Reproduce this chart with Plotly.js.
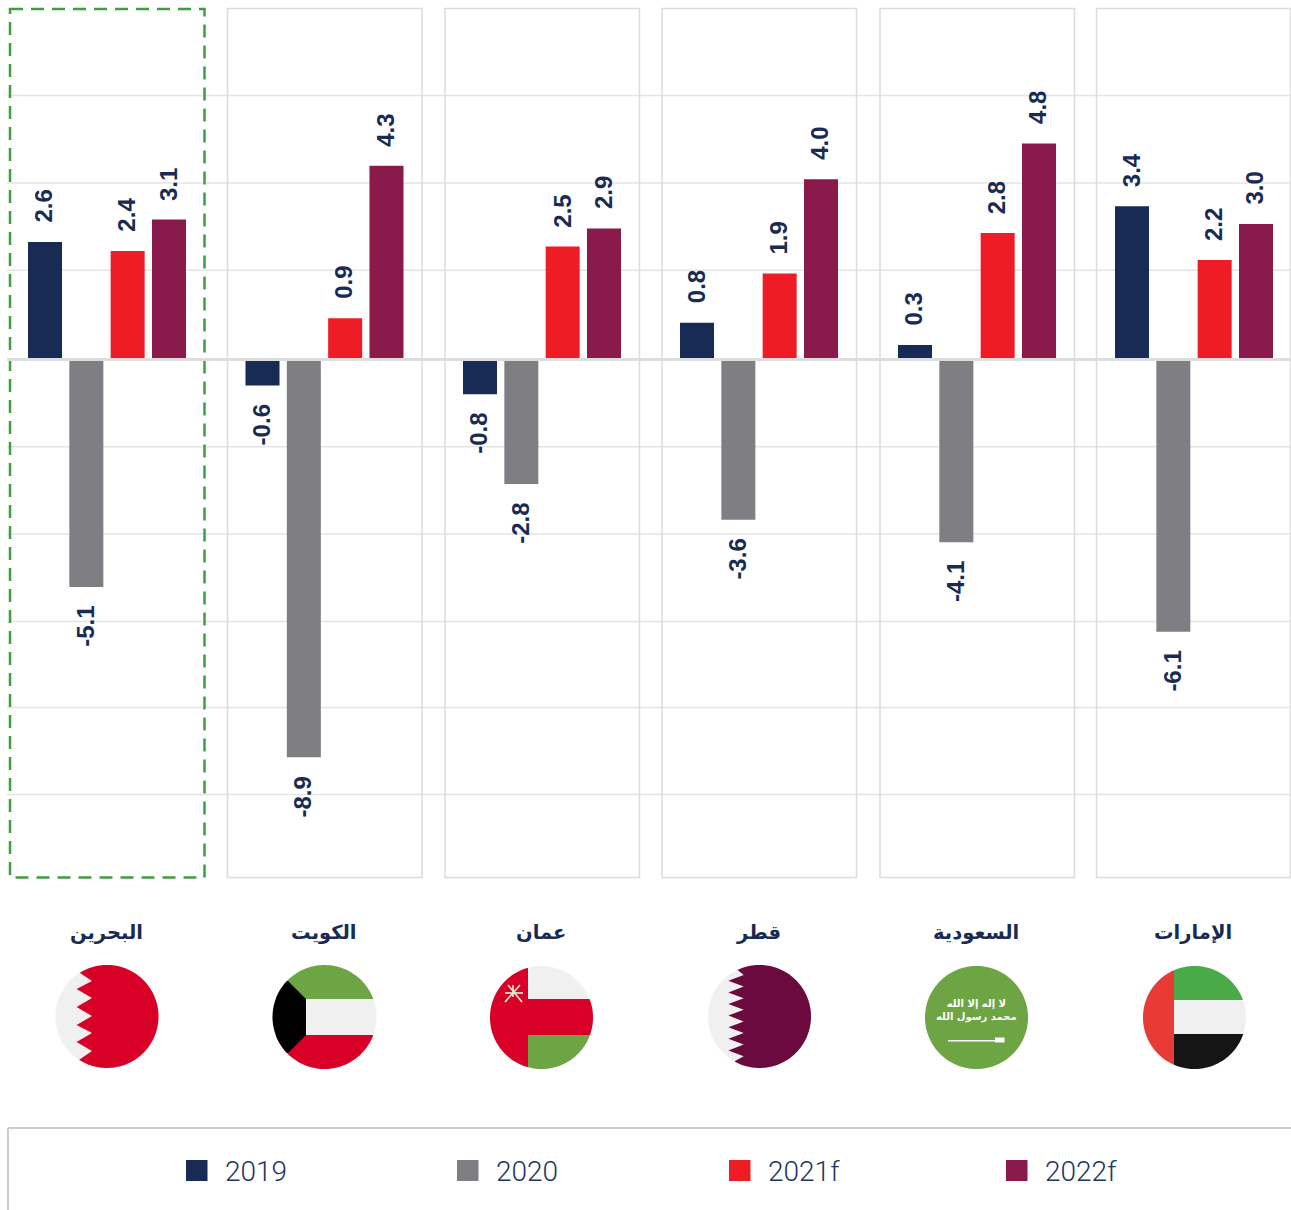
<!DOCTYPE html>
<html><head><meta charset="utf-8">
<script src="https://cdn.plot.ly/plotly-3.0.1.min.js"></script>
<style>html,body{margin:0;padding:0;background:#fff}#c{width:1291px;height:1210px}</style>
</head><body><div id="c"></div>
<script>
const countries = ["البحرين","الكويت","عمان","قطر","السعودية","الإمارات"];
const years = ["2019","2020","2021f","2022f"];
const values2019 = [2.6,-0.6,-0.8,0.8,0.3,3.4];
const values2020 = [-5.1,-8.9,-2.8,-3.6,-4.1,-6.1];
const values2021f = [2.4,0.9,2.5,1.9,2.8,2.2];
const values2022f = [3.1,4.3,2.9,4.0,4.8,3.0];
const seriesValues = [values2019,values2020,values2021f,values2022f];
const colors = ["#172B54","#7F7F83","#EE1C25","#8A1A4B"];
const gridValues = [5.87,3.92,1.97,-1.97,-3.92,-5.87,-7.79,-9.73];

const W=1291,H=1210;
const fx=x=>x/W, fy=y=>1-y/H;
const panelLeft=[10,227.5,445,662,880,1096.5], panelW=194.5;
const centers=[107,324.5,542,759,977,1194];
const txtColor="#172B54";
const layout={width:W,height:H,margin:{l:0,r:0,t:0,b:0,pad:0},paper_bgcolor:"#fff",plot_bgcolor:"rgba(0,0,0,0)",
  barmode:"overlay",showlegend:false,hovermode:false,shapes:[],annotations:[],
  yaxis:{domain:[fy(877.5),fy(8.5)],range:[-519/44.8,350/44.8],visible:false,showgrid:false,zeroline:false,fixedrange:true}};
const traces=[];
const step=41.33,half=panelW/2/step,barW=34/step;

gridValues.forEach(v=>layout.shapes.push({type:"line",xref:"paper",yref:"y",x0:fx(7),x1:1,y0:v,y1:v,layer:"below",line:{color:"#E4E4E4",width:1.5}}));

countries.forEach((c,p)=>{
  const n=p+1, ax="xaxis"+(p?n:""), ref="x"+(p?n:"");
  const l=panelLeft[p];
  const cx=(centers[p]-l-panelW/2)/step;
  layout[ax]={domain:[fx(l),Math.min(1,fx(l+panelW))],type:"category",categoryorder:"array",categoryarray:years,
    range:[1.5-half-cx,1.5+half-cx],anchor:"y",visible:false,showgrid:false,zeroline:false,fixedrange:true};
  years.forEach((yr,s)=>{
    const v=seriesValues[s][p];
    traces.push({type:"bar",name:yr,x:[yr],y:[v],xaxis:ref,yaxis:"y",width:barW,marker:{color:colors[s],line:{width:0}}});
    layout.annotations.push({xref:ref,yref:"y",x:s,y:v,text:v.toFixed(1),showarrow:false,textangle:-90,
      yanchor:v>0?"bottom":"top",yshift:v>0?17:-17,xshift:-1,
      font:{family:"Liberation Sans",size:24,color:txtColor,weight:"bold"}});
  });
  layout.annotations.push({xref:"paper",yref:"paper",x:fx(centers[p]-1),y:fy(932),text:"<b>"+c+"</b>",showarrow:false,
    xanchor:"center",yanchor:"middle",font:{family:"DejaVu Sans",size:19.5,color:txtColor}});
  layout.shapes.push(p===0
   ?{type:"rect",xref:"paper",yref:"paper",x0:fx(10),x1:fx(204.5),y0:fy(9),y1:fy(877.5),layer:"above",line:{color:"#3F9F3F",width:2.5,dash:"13px,8px"}}
   :{type:"rect",xref:"paper",yref:"paper",x0:fx(l),x1:fx(Math.min(l+panelW,1290.5)),y0:fy(8.5),y1:fy(877.5),layer:"below",line:{color:"#DCDCDC",width:1.5}});
});
layout.shapes.push({type:"line",xref:"paper",yref:"y",x0:fx(7),x1:1,y0:-0.02,y1:-0.02,layer:"above",line:{color:"#DDDDDD",width:3}});

/* flags: polygons clipped to a circle */
function circlePoly(cx,cy,r){const a=[];for(let i=0;i<180;i++){const t=i/180*2*Math.PI;a.push([cx+r*Math.cos(t),cy+r*Math.sin(t)]);}return a;}
function clip(subject,clipper){
  let out=subject;
  for(let i=0;i<clipper.length;i++){
    const A=clipper[i],B=clipper[(i+1)%clipper.length];
    const side=P=>(B[0]-A[0])*(P[1]-A[1])-(B[1]-A[1])*(P[0]-A[0]);
    const inp=out;out=[];
    for(let j=0;j<inp.length;j++){
      const P=inp[j],Q=inp[(j+1)%inp.length],sp=side(P),sq=side(Q);
      if(sp>=0)out.push(P);
      if((sp>=0)!==(sq>=0)){const t=sp/(sp-sq);out.push([P[0]+t*(Q[0]-P[0]),P[1]+t*(Q[1]-P[1])]);}
    }
    if(!out.length)break;
  }
  return out;
}
function pathOf(pts){return "M"+pts.map(p=>fx(p[0]).toFixed(5)+","+fy(p[1]).toFixed(5)).join("L")+"Z";}
function poly(pts,color){layout.shapes.push({type:"path",xref:"paper",yref:"paper",path:pathOf(pts),fillcolor:color,line:{width:0},layer:"above"});}
function flag(cx,cy,r,base,regions){
  const C=circlePoly(cx,cy,r);poly(C,base);
  regions.forEach(([pts,col])=>poly(clip(pts,C),col));
}
function box(a,b,c,d){return [[a,b],[c,b],[c,d],[a,d]];}
const WHT="#F0F0F0",RED="#D80027",GRN="#6DA544";
// Bahrain
flag(107,1016.5,51.5,WHT,[[[[80,960],[80,973],[92,981],[76.6,989],[92,998],[76.6,1007],[92,1016],[76.6,1025],[92,1033],[76.6,1042],[92,1051],[79,1060],[79,1075],[165,1075],[165,960]],RED]]);
// Kuwait
flag(324.5,1017,52,WHT,[[box(260,950,390,999),GRN],[box(260,1035,390,1085),RED],[[[288,981],[306,999],[306,1035],[288,1053],[260,1053],[260,981]],"#000000"]]);
// Oman
flag(541.5,1017.5,51.5,WHT,[[box(528,1035,600,1075),GRN],[[[480,960],[528,960],[528,999],[600,999],[600,1035],[528,1035],[528,1075],[480,1075]],RED]]);
[[505,993,523,993],[513,985,513,997],[508,985,522,1002],[520,985,505,1002]].forEach(q=>layout.shapes.push({type:"line",xref:"paper",yref:"paper",x0:fx(q[0]),y0:fy(q[1]),x1:fx(q[2]),y1:fy(q[3]),line:{color:"#E6F0D8",width:1.6},layer:"above"}));
// Qatar
(function(){const z=[[737,955],[736.5,969]];for(let k=0;k<8;k++){z.push([743.7,975+11.6*k]);z.push([728.4,980.8+11.6*k]);}
 z.pop();z.push([735,1061],[735,1075],[815,1075],[815,955]);
 flag(759.5,1016.5,51.5,WHT,[[z,"#6B0A3E"]]);})();
// Saudi Arabia
flag(976.5,1017.5,51.5,GRN,[[box(948,1040,995,1041.4),"#FFFFFF"],[box(995,1037.5,1004.5,1042.5),"#FFFFFF"]]);
layout.annotations.push({xref:"paper",yref:"paper",x:fx(976.5),y:fy(1010),text:"<b>لا إله إلا الله<br>محمد رسول الله</b>",showarrow:false,
  xanchor:"center",yanchor:"middle",font:{family:"DejaVu Sans",size:10,color:"#FFFFFF"}});
// UAE
flag(1194.5,1017.5,51.5,WHT,[[box(1174,960,1250,1000),"#4BAA48"],[box(1174,1034,1250,1075),"#151515"],[box(1140,960,1174,1075),"#E83B35"]]);

/* legend */
layout.shapes.push({type:"line",xref:"paper",yref:"paper",x0:fx(8),x1:1,y0:fy(1128),y1:fy(1128),line:{color:"#BDBDBD",width:1.5},layer:"below"});
layout.shapes.push({type:"line",xref:"paper",yref:"paper",x0:fx(8),x1:fx(8),y0:fy(1128),y1:0,line:{color:"#BDBDBD",width:1.5},layer:"below"});
const legendSwatchX=[186,457,729,1006];
years.forEach((yr,i)=>{
  const x=legendSwatchX[i];
  layout.shapes.push({type:"rect",xref:"paper",yref:"paper",x0:fx(x),x1:fx(x+21.5),y0:fy(1160),y1:fy(1181),fillcolor:colors[i],line:{width:0},layer:"above"});
  layout.annotations.push({xref:"paper",yref:"paper",x:fx(x+39),y:fy(1171),text:yr,showarrow:false,xanchor:"left",yanchor:"middle",
    xshift:-2,font:{family:"Roboto",size:28,color:"#22355F",weight:300}});
});
Plotly.newPlot("c",traces,layout,{displayModeBar:false,staticPlot:true});
</script></body></html>
